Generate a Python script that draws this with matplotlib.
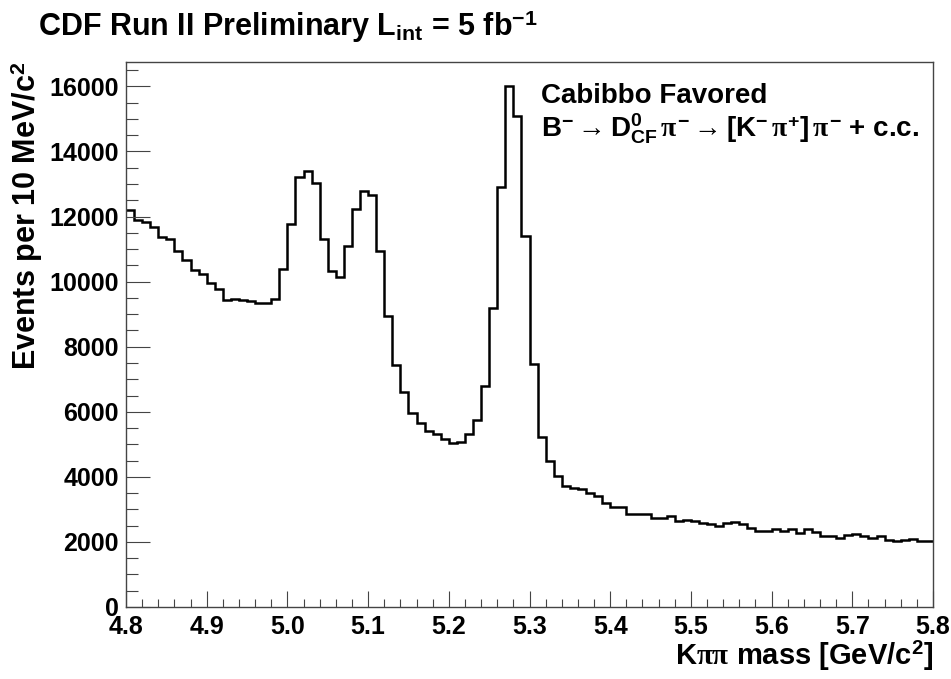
import numpy as np
import matplotlib
matplotlib.use("Agg")
from matplotlib import pyplot as plt
from matplotlib.ticker import MultipleLocator

# K pi pi invariant mass, 10 MeV bins from 4.8 to 5.8 GeV/c^2
mass_min = 4.8
mass_max = 5.8
events = [
    12205, 11900, 11840, 11670, 11360, 11310, 10950, 10650, 10360, 10240,
    9950, 9780, 9440, 9470, 9420, 9400, 9340, 9330, 9460, 10400,
    11780, 13210, 13410, 13030, 11310, 10340, 10150, 11110, 12230, 12800,
    12670, 10950, 8930, 7440, 6620, 5950, 5670, 5420, 5310, 5160,
    5040, 5080, 5330, 5750, 6780, 9200, 12900, 16000, 15080, 11390,
    7480, 5240, 4480, 4030, 3720, 3650, 3620, 3490, 3400, 3210,
    3060, 3060, 2870, 2870, 2850, 2750, 2720, 2800, 2650, 2670,
    2630, 2570, 2550, 2490, 2590, 2610, 2540, 2440, 2340, 2340,
    2410, 2340, 2410, 2260, 2390, 2310, 2190, 2190, 2110, 2210,
    2250, 2190, 2110, 2180, 2060, 2030, 2060, 2080, 2030, 2030,
]
x_ticks = [4.8, 4.9, 5.0, 5.1, 5.2, 5.3, 5.4, 5.5, 5.6, 5.7, 5.8]
y_ticks = [0, 2000, 4000, 6000, 8000, 10000, 12000, 14000, 16000]

PI = r"\mathit{\pi}"
title = r"CDF Run II Preliminary L$_{\mathrm{int}}$ = 5 fb$^{\mathrm{-1}}$"
channel = "Cabibbo Favored"
decay = (r"$\mathrm{B}^{-}\rightarrow\mathrm{D}^{0}_{\mathrm{CF}}\," + PI + r"^{-}\rightarrow"
         r"[\mathrm{K}^{-}\," + PI + r"^{+}]\," + PI + r"^{-}$ + c.c.")
x_label = r"K$" + PI + PI + r"$ mass [GeV/c$^{\mathrm{2}}$]"
y_label = r"Events per 10 MeV/c$^{\mathrm{2}}$"

plt.rcParams["font.family"] = ["Liberation Sans", "DejaVu Sans"]
plt.rcParams["font.weight"] = "bold"
plt.rcParams["mathtext.fontset"] = "custom"
plt.rcParams["mathtext.rm"] = "Liberation Sans:bold"
plt.rcParams["mathtext.bf"] = "Liberation Sans:bold"
plt.rcParams["mathtext.it"] = "Liberation Serif"

W, H = 951, 679
fig = plt.figure(figsize=(W / 100, H / 100), dpi=100)
ax = fig.add_axes([126 / W, 1 - 607 / H, (933 - 126) / W, (607 - 62) / H])

edges = np.linspace(mass_min, mass_max, len(events) + 1)
ax.stairs(events, edges, baseline=None, color="black", linewidth=1.8)

ax.set_xlim(mass_min, mass_max)
ax.set_ylim(0, 16750)
ax.set_xticks(x_ticks)
ax.set_xticklabels([f"{t:.1f}" for t in x_ticks])
ax.set_yticks(y_ticks)
ax.xaxis.set_minor_locator(MultipleLocator(0.02))
ax.yaxis.set_minor_locator(MultipleLocator(500))

ax.tick_params(axis="both", which="both", direction="in", top=False, right=False,
               color="#444444", width=0.8, labelsize=18)
ax.tick_params(axis="x", which="major", length=11.5, pad=6)
ax.tick_params(axis="x", which="minor", length=5.8)
ax.tick_params(axis="y", which="major", length=17, pad=5)
ax.tick_params(axis="y", which="minor", length=8.6)
for spine in ax.spines.values():
    spine.set_color("#444444")
    spine.set_linewidth(1.0)


def px(x, y):
    return x / W, 1 - y / H


fig.text(*px(38, 36), title, fontsize=22, ha="left", va="baseline")
fig.text(*px(541, 103), channel, fontsize=20, ha="left", va="baseline")
fig.text(*px(541, 138), decay, fontsize=20, ha="left", va="baseline")
fig.text(*px(933, 665), x_label, fontsize=21, ha="right", va="baseline")
fig.text(*px(27, 62), y_label, fontsize=22, ha="center", va="top", rotation=90)

fig.savefig("out.png", dpi=100)
